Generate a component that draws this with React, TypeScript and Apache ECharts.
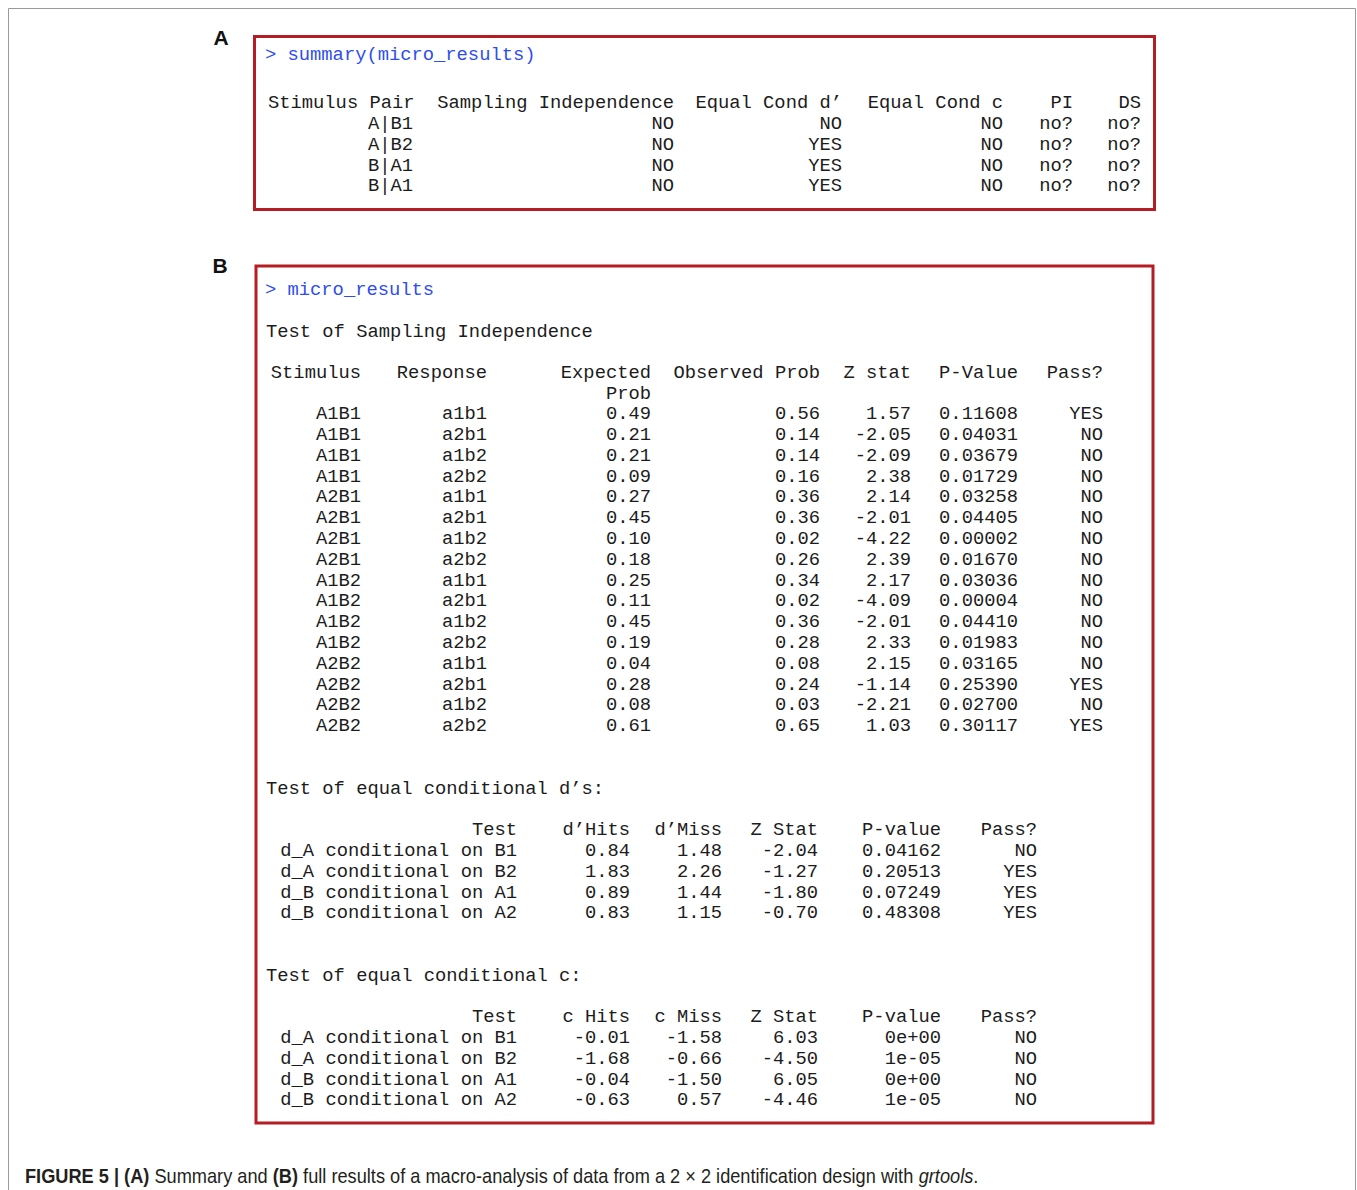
import React, { useEffect, useRef } from "react";
import * as echarts from "echarts";

// ---------- DATA ----------
const summaryHeaders = ["Stimulus Pair", "Sampling Independence", "Equal Cond d\u2019", "Equal Cond c", "PI", "DS"];
const summaryPairs = ["A|B1", "A|B2", "B|A1", "B|A1"];
const summarySI = ["NO", "NO", "NO", "NO"];
const summaryDprime = ["NO", "YES", "YES", "YES"];
const summaryCondC = ["NO", "NO", "NO", "NO"];
const summaryPI = ["no?", "no?", "no?", "no?"];
const summaryDS = ["no?", "no?", "no?", "no?"];

const microHeaders = ["Stimulus", "Response", "Expected", "Observed Prob", "Z stat", "P-Value", "Pass?"];
const microStimulus = [
  "A1B1", "A1B1", "A1B1", "A1B1", "A2B1", "A2B1", "A2B1", "A2B1",
  "A1B2", "A1B2", "A1B2", "A1B2", "A2B2", "A2B2", "A2B2", "A2B2",
];
const microResponse = [
  "a1b1", "a2b1", "a1b2", "a2b2", "a1b1", "a2b1", "a1b2", "a2b2",
  "a1b1", "a2b1", "a1b2", "a2b2", "a1b1", "a2b1", "a1b2", "a2b2",
];
const microExpected = [0.49, 0.21, 0.21, 0.09, 0.27, 0.45, 0.1, 0.18, 0.25, 0.11, 0.45, 0.19, 0.04, 0.28, 0.08, 0.61];
const microObserved = [0.56, 0.14, 0.14, 0.16, 0.36, 0.36, 0.02, 0.26, 0.34, 0.02, 0.36, 0.28, 0.08, 0.24, 0.03, 0.65];
const microZ = [1.57, -2.05, -2.09, 2.38, 2.14, -2.01, -4.22, 2.39, 2.17, -4.09, -2.01, 2.33, 2.15, -1.14, -2.21, 1.03];
const microP = [0.11608, 0.04031, 0.03679, 0.01729, 0.03258, 0.04405, 0.00002, 0.0167, 0.03036, 0.00004, 0.0441, 0.01983, 0.03165, 0.2539, 0.027, 0.30117];
const microPass = ["YES", "NO", "NO", "NO", "NO", "NO", "NO", "NO", "NO", "NO", "NO", "NO", "NO", "YES", "NO", "YES"];

const dHeaders = ["Test", "d\u2019Hits", "d\u2019Miss", "Z Stat", "P-value", "Pass?"];
const dTests = ["d_A conditional on B1", "d_A conditional on B2", "d_B conditional on A1", "d_B conditional on A2"];
const dHits = [0.84, 1.83, 0.89, 0.83];
const dMiss = [1.48, 2.26, 1.44, 1.15];
const dZ = [-2.04, -1.27, -1.8, -0.7];
const dP = [0.04162, 0.20513, 0.07249, 0.48308];
const dPass = ["NO", "YES", "YES", "YES"];

const cHeaders = ["Test", "c Hits", "c Miss", "Z Stat", "P-value", "Pass?"];
const cTests = ["d_A conditional on B1", "d_A conditional on B2", "d_B conditional on A1", "d_B conditional on A2"];
const cHits = [-0.01, -1.68, -0.04, -0.63];
const cMiss = [-1.58, -0.66, -1.5, 0.57];
const cZ = [6.03, -4.5, 6.05, -4.46];
const cP = ["0e+00", "1e-05", "0e+00", "1e-05"];
const cPass = ["NO", "NO", "NO", "NO"];

// ---------- STYLE ----------
const MONO = "'Courier New', 'Liberation Mono', monospace";
const FS = 18.8;
const INK = "#1c1c1c";
const BLUE = "#2f4cf0";
const RED = "#b51d24";
const ROW = 20.8;
const DY = 1.2;

function txt(x: number, y: number, text: string, align = "left", color = INK): any {
  return {
    type: "text",
    x,
    y: y + DY,
    silent: true,
    style: {
      text,
      fill: color,
      fontFamily: MONO,
      fontSize: FS,
      textAlign: align,
      textVerticalAlign: "middle",
    },
  };
}

function buildGraphics(): any[] {
  const g: any[] = [];
  // outer frame
  g.push({ type: "rect", shape: { x: 8.5, y: 8.5, width: 1347, height: 1250 }, style: { fill: "none", stroke: "#9a9a9a", lineWidth: 1 } });
  // panel labels
  const lab = (x: number, y: number, t: string) => ({
    type: "text", x, y,
    style: { text: t, fill: "#111", fontFamily: "'Liberation Sans', Arial, sans-serif", fontWeight: "bold", fontSize: 21, textAlign: "center", textVerticalAlign: "middle" },
  });
  g.push(lab(221, 37, "A"));
  g.push(lab(220, 265, "B"));
  // boxes
  g.push({ type: "rect", shape: { x: 254.5, y: 36.5, width: 900, height: 173 }, style: { fill: "none", stroke: RED, lineWidth: 3 } });
  g.push({ type: "rect", shape: { x: 256, y: 266, width: 897, height: 857 }, style: { fill: "none", stroke: RED, lineWidth: 3 } });

  // ---- Panel A ----
  g.push(txt(265, 54, "> summary(micro_results)", "left", BLUE));
  const aHeadY = 102;
  const aRight = [413, 674, 842, 1003, 1073, 1141];
  g.push(txt(268, aHeadY, summaryHeaders[0], "left"));
  for (let c = 1; c < summaryHeaders.length; c++) g.push(txt(aRight[c], aHeadY, summaryHeaders[c], "right"));
  const aCols = [summaryPairs, summarySI, summaryDprime, summaryCondC, summaryPI, summaryDS];
  for (let r = 0; r < summaryPairs.length; r++) {
    const y = aHeadY + ROW * (r + 1);
    aCols.forEach((col, c) => g.push(txt(aRight[c], y, col[r], "right")));
  }

  // ---- Panel B: sampling independence ----
  g.push(txt(265, 289, "> micro_results", "left", BLUE));
  g.push(txt(266, 331, "Test of Sampling Independence", "left"));
  const bHeadY = 372;
  const bRight = [361, 487, 651, 820, 911, 1018, 1103];
  microHeaders.forEach((h, c) => g.push(txt(bRight[c], bHeadY, h, "right")));
  g.push(txt(bRight[2], bHeadY + ROW, "Prob", "right"));
  for (let r = 0; r < microStimulus.length; r++) {
    const y = 413 + ROW * r;
    const vals = [
      microStimulus[r],
      microResponse[r],
      microExpected[r].toFixed(2),
      microObserved[r].toFixed(2),
      microZ[r].toFixed(2),
      microP[r].toFixed(5),
      microPass[r],
    ];
    vals.forEach((v, c) => g.push(txt(bRight[c], y, v, "right")));
  }

  // ---- equal conditional d's ----
  const tRight = [517, 630, 722, 818, 941, 1037];
  g.push(txt(266, 788, "Test of equal conditional d\u2019s:", "left"));
  const dHeadY = 829;
  dHeaders.forEach((h, c) => g.push(txt(tRight[c], dHeadY, h, "right")));
  for (let r = 0; r < dTests.length; r++) {
    const y = dHeadY + ROW * (r + 1);
    const vals = [dTests[r], dHits[r].toFixed(2), dMiss[r].toFixed(2), dZ[r].toFixed(2), dP[r].toFixed(5), dPass[r]];
    vals.forEach((v, c) => g.push(txt(tRight[c], y, v, "right")));
  }

  // ---- equal conditional c ----
  g.push(txt(266, 975, "Test of equal conditional c:", "left"));
  const cHeadY = 1016;
  cHeaders.forEach((h, c) => g.push(txt(tRight[c], cHeadY, h, "right")));
  for (let r = 0; r < cTests.length; r++) {
    const y = cHeadY + ROW * (r + 1);
    const vals = [cTests[r], cHits[r].toFixed(2), cMiss[r].toFixed(2), cZ[r].toFixed(2), cP[r], cPass[r]];
    vals.forEach((v, c) => g.push(txt(tRight[c], y, v, "right")));
  }

  // ---- caption ----
  const CAP = "'Liberation Sans', Arial, sans-serif";
  g.push({
    type: "text",
    x: 25,
    y: 1176,
    scaleX: 0.91,
    style: {
      text: "{b|FIGURE 5 | (A)} Summary and {b|(B)} full results of a macro-analysis of data from a 2 \u00d7 2 identification design with {i|grtools}.",
      fill: "#231f20",
      fontFamily: CAP,
      fontSize: 20,
      textAlign: "left",
      textVerticalAlign: "middle",
      rich: {
        b: { fontWeight: "bold", fontFamily: CAP, fontSize: 20, fill: "#231f20" },
        i: { fontStyle: "italic", fontFamily: CAP, fontSize: 20, fill: "#231f20" },
      },
    },
  });
  return g;
}

export default function App() {
  const ref = useRef<HTMLDivElement>(null);
  useEffect(() => {
    if (!ref.current) return;
    const chart = echarts.init(ref.current, undefined, { renderer: "svg" });
    chart.setOption({
      animation: false,
      backgroundColor: "#ffffff",
      graphic: { elements: buildGraphics() },
    });
    return () => chart.dispose();
  }, []);
  return (
    <div
      ref={ref}
      style={{ position: "absolute", left: 0, top: 0, width: 1357, height: 1190, background: "#fff" }}
    />
  );
}
